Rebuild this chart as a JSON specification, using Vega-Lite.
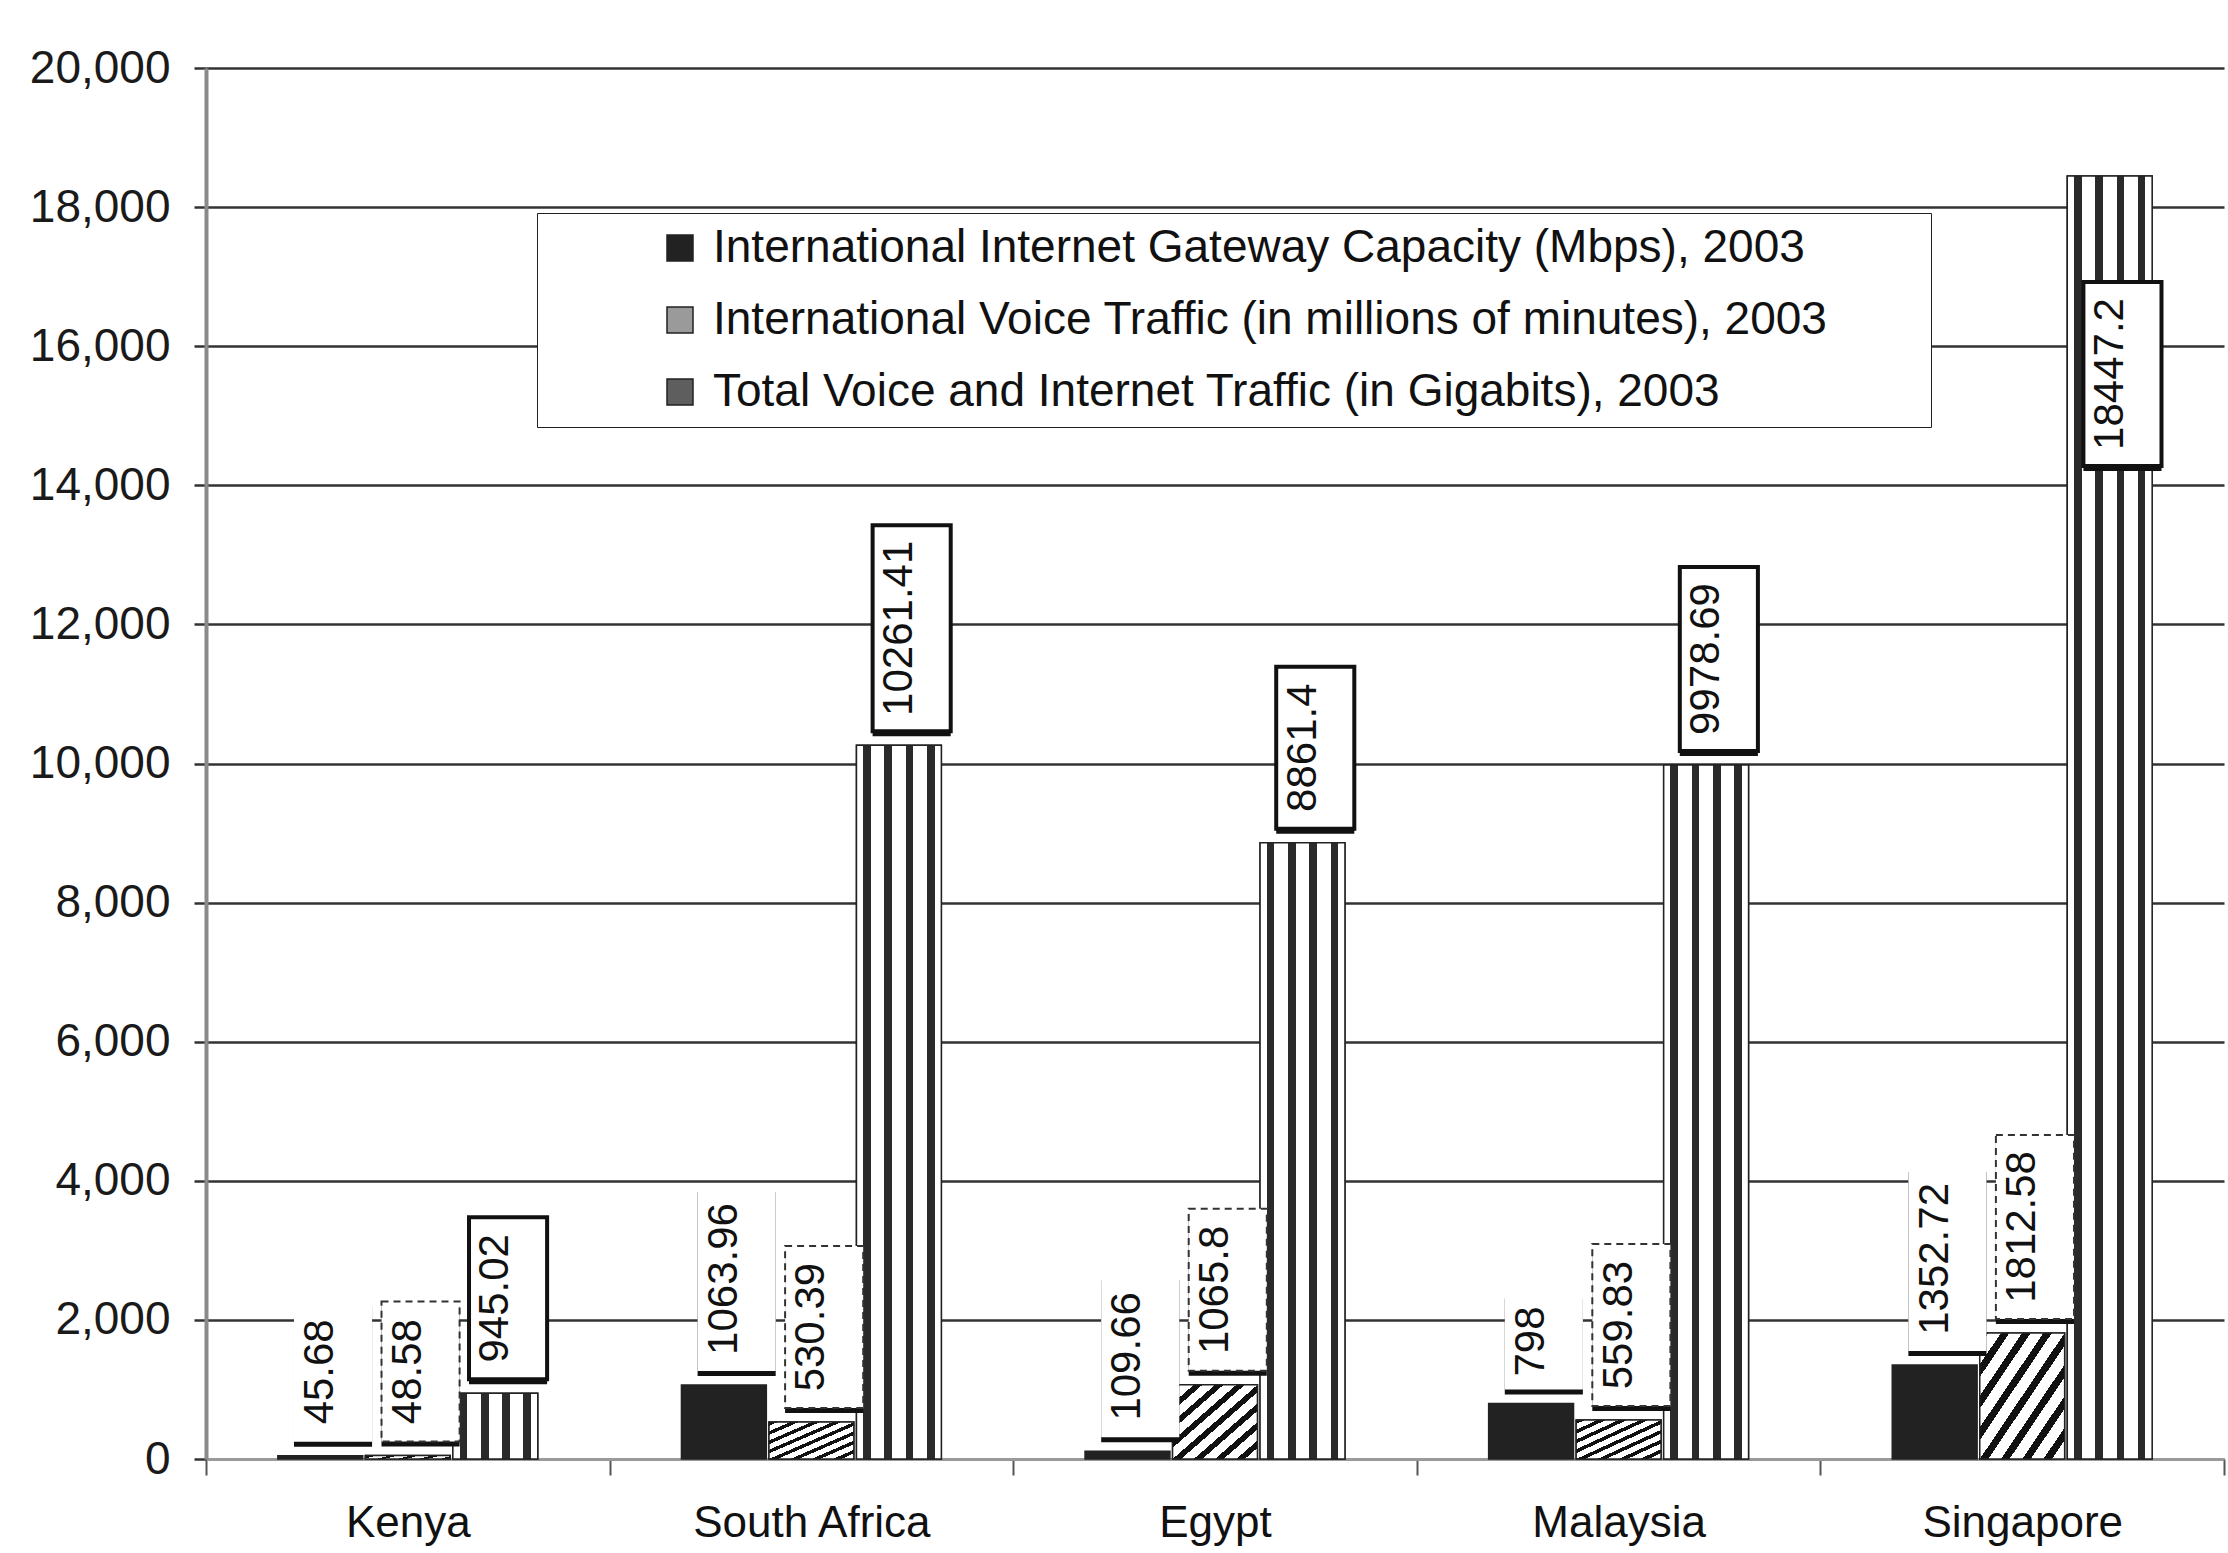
{
  "$schema": "https://vega.github.io/schema/vega-lite/v6.json",
  "width": 2018,
  "height": 1391,
  "autosize": {"type": "none"},
  "padding": {"left": 206, "top": 68, "right": 4, "bottom": 94},
  "background": "white",
  "config": {
    "view": {"stroke": null},
    "font": "Liberation Sans",
    "axis": {"labelFont": "Liberation Sans", "titleFont": "Liberation Sans"},
    "legend": {"labelFont": "Liberation Sans", "titleFont": "Liberation Sans"}
  },
  "data": {
    "values": [
      {"country": "Kenya", "series": "International Internet Gateway Capacity (Mbps), 2003", "value": 45.68},
      {"country": "Kenya", "series": "International Voice Traffic (in millions of minutes), 2003", "value": 48.58},
      {"country": "Kenya", "series": "Total Voice and Internet Traffic (in Gigabits), 2003", "value": 945.02},
      {"country": "South Africa", "series": "International Internet Gateway Capacity (Mbps), 2003", "value": 1063.96},
      {"country": "South Africa", "series": "International Voice Traffic (in millions of minutes), 2003", "value": 530.39},
      {"country": "South Africa", "series": "Total Voice and Internet Traffic (in Gigabits), 2003", "value": 10261.41},
      {"country": "Egypt", "series": "International Internet Gateway Capacity (Mbps), 2003", "value": 109.66},
      {"country": "Egypt", "series": "International Voice Traffic (in millions of minutes), 2003", "value": 1065.8},
      {"country": "Egypt", "series": "Total Voice and Internet Traffic (in Gigabits), 2003", "value": 8861.4},
      {"country": "Malaysia", "series": "International Internet Gateway Capacity (Mbps), 2003", "value": 798},
      {"country": "Malaysia", "series": "International Voice Traffic (in millions of minutes), 2003", "value": 559.83},
      {"country": "Malaysia", "series": "Total Voice and Internet Traffic (in Gigabits), 2003", "value": 9978.69},
      {"country": "Singapore", "series": "International Internet Gateway Capacity (Mbps), 2003", "value": 1352.72},
      {"country": "Singapore", "series": "International Voice Traffic (in millions of minutes), 2003", "value": 1812.58},
      {"country": "Singapore", "series": "Total Voice and Internet Traffic (in Gigabits), 2003", "value": 18447.2}
    ]
  },
  "encoding": {
    "x": {
      "field": "country", "type": "nominal",
      "sort": ["Kenya", "South Africa", "Egypt", "Malaysia", "Singapore"],
      "scale": {"paddingInner": 0, "paddingOuter": 0},
      "axis": {
        "title": null, "labelAngle": 0, "labelFontSize": 44, "labelColor": "#111", "labelLimit": 0,
        "domainColor": "#9a9a9a", "domainWidth": 3,
        "tickBand": "extent", "tickColor": "#555", "tickWidth": 2, "tickSize": 16,
        "labelPadding": 26, "grid": false
      }
    },
    "xOffset": {
      "field": "series", "type": "nominal",
      "scale": {
        "domain": [
          "International Internet Gateway Capacity (Mbps), 2003",
          "International Voice Traffic (in millions of minutes), 2003",
          "Total Voice and Internet Traffic (in Gigabits), 2003"
        ],
        "paddingInner": 0.03, "paddingOuter": 0.821
      }
    },
    "y": {
      "field": "value", "type": "quantitative", "stack": null,
      "scale": {"domain": [0, 20000], "nice": false},
      "axis": {
        "title": null, "values": [0, 2000, 4000, 6000, 8000, 10000, 12000, 14000, 16000, 18000, 20000],
        "labelExpr": "format(datum.value, ',')", "labelFontSize": 46, "labelColor": "#1a1a1a",
        "grid": true, "gridColor": "#333", "gridWidth": 2.5,
        "domainColor": "#8a8a8a", "domainWidth": 4,
        "tickColor": "#333", "tickWidth": 2.5, "tickSize": 12, "labelPadding": 24
      }
    }
  },
  "layer": [
    {
      "mark": {"type": "bar", "stroke": "#222", "strokeWidth": 1.5},
      "encoding": {
        "color": {
          "field": "series", "type": "nominal",
          "scale": {
            "domain": [
              "International Internet Gateway Capacity (Mbps), 2003",
              "International Voice Traffic (in millions of minutes), 2003",
              "Total Voice and Internet Traffic (in Gigabits), 2003"
            ],
            "range": ["#222222", "#9a9a9a", "#5e5e5e"]
          },
          "legend": {
            "title": "MM", "titleOrient": "right", "titleColor": "white", "titleFontSize": 46, "titlePadding": 14,
            "orient": "none", "legendX": 331, "legendY": 145,
            "fillColor": "white", "strokeColor": "#222", "padding": 12,
            "symbolType": "square", "symbolSize": 676, "symbolStrokeColor": "#222", "symbolStrokeWidth": 1.5,
            "symbolOffset": 108, "labelOffset": 10,
            "labelFontSize": 46, "labelColor": "#111", "labelLimit": 0, "rowPadding": 26
          }
        }
      }
    },
    {
      "transform": [{"filter": {"field": "series", "equal": "International Voice Traffic (in millions of minutes), 2003"}}],
      "mark": {
        "type": "bar", "stroke": "#222", "strokeWidth": 1.5,
        "fill": {"gradient": "linear", "x1": 0, "y1": 0, "x2": 1, "y2": 1, "stops": [
          {"offset": 0, "color": "#111"}, {"offset": 0.05, "color": "#111"}, {"offset": 0.05, "color": "#fff"}, {"offset": 0.125, "color": "#fff"},
          {"offset": 0.125, "color": "#111"}, {"offset": 0.175, "color": "#111"}, {"offset": 0.175, "color": "#fff"}, {"offset": 0.25, "color": "#fff"},
          {"offset": 0.25, "color": "#111"}, {"offset": 0.3, "color": "#111"}, {"offset": 0.3, "color": "#fff"}, {"offset": 0.375, "color": "#fff"},
          {"offset": 0.375, "color": "#111"}, {"offset": 0.425, "color": "#111"}, {"offset": 0.425, "color": "#fff"}, {"offset": 0.5, "color": "#fff"},
          {"offset": 0.5, "color": "#111"}, {"offset": 0.55, "color": "#111"}, {"offset": 0.55, "color": "#fff"}, {"offset": 0.625, "color": "#fff"},
          {"offset": 0.625, "color": "#111"}, {"offset": 0.675, "color": "#111"}, {"offset": 0.675, "color": "#fff"}, {"offset": 0.75, "color": "#fff"},
          {"offset": 0.75, "color": "#111"}, {"offset": 0.8, "color": "#111"}, {"offset": 0.8, "color": "#fff"}, {"offset": 0.875, "color": "#fff"},
          {"offset": 0.875, "color": "#111"}, {"offset": 0.925, "color": "#111"}, {"offset": 0.925, "color": "#fff"}, {"offset": 1, "color": "#fff"}
        ]}
      },
      "encoding": {}
    },
    {
      "transform": [{"filter": {"field": "series", "equal": "Total Voice and Internet Traffic (in Gigabits), 2003"}}],
      "mark": {
        "type": "bar", "stroke": "#222", "strokeWidth": 1.5,
        "fill": {"gradient": "linear", "x1": 0, "y1": 0, "x2": 1, "y2": 0, "stops": [
          {"offset": 0, "color": "#fff"}, {"offset": 0.08, "color": "#fff"}, {"offset": 0.08, "color": "#2a2a2a"}, {"offset": 0.17, "color": "#2a2a2a"}, {"offset": 0.17, "color": "#fff"},
          {"offset": 0.33, "color": "#fff"}, {"offset": 0.33, "color": "#2a2a2a"}, {"offset": 0.42, "color": "#2a2a2a"}, {"offset": 0.42, "color": "#fff"},
          {"offset": 0.58, "color": "#fff"}, {"offset": 0.58, "color": "#2a2a2a"}, {"offset": 0.67, "color": "#2a2a2a"}, {"offset": 0.67, "color": "#fff"},
          {"offset": 0.83, "color": "#fff"}, {"offset": 0.83, "color": "#2a2a2a"}, {"offset": 0.92, "color": "#2a2a2a"}, {"offset": 0.92, "color": "#fff"}, {"offset": 1, "color": "#fff"}
        ]}
      },
      "encoding": {}
    },
    {
      "mark": {
        "type": "bar", "fill": "#111", "xOffset": 5,
        "width": {"band": 0.92},
        "yOffset": {"expr": "(datum.value > 16000 ? 290 : -14) + 5"},
        "y2Offset": {"expr": "(datum.value > 16000 ? 290 : -14) - (22*length(toString(datum.value))+30) + 5"}
      },
      "encoding": {"y2": {"field": "value"}}
    },
    {
      "transform": [{"filter": {"field": "series", "equal": "International Internet Gateway Capacity (Mbps), 2003"}}],
      "mark": {
        "type": "bar", "fill": "white",
        "width": {"band": 0.92},
        "yOffset": {"expr": "(datum.value > 16000 ? 290 : -14)"},
        "y2Offset": {"expr": "(datum.value > 16000 ? 290 : -14) - (22*length(toString(datum.value))+30)"}
      },
      "encoding": {"y2": {"field": "value"}}
    },
    {
      "transform": [{"filter": {"field": "series", "equal": "International Voice Traffic (in millions of minutes), 2003"}}],
      "mark": {
        "type": "bar", "fill": "white", "stroke": "#333", "strokeWidth": 2, "strokeDash": [7, 5],
        "width": {"band": 0.92},
        "yOffset": {"expr": "(datum.value > 16000 ? 290 : -14)"},
        "y2Offset": {"expr": "(datum.value > 16000 ? 290 : -14) - (22*length(toString(datum.value))+30)"}
      },
      "encoding": {"y2": {"field": "value"}}
    },
    {
      "transform": [{"filter": {"field": "series", "equal": "Total Voice and Internet Traffic (in Gigabits), 2003"}}],
      "mark": {
        "type": "bar", "fill": "white", "stroke": "#111", "strokeWidth": 4,
        "width": {"band": 0.92},
        "yOffset": {"expr": "(datum.value > 16000 ? 290 : -14)"},
        "y2Offset": {"expr": "(datum.value > 16000 ? 290 : -14) - (22*length(toString(datum.value))+30)"}
      },
      "encoding": {"y2": {"field": "value"}}
    },
    {
      "mark": {
        "type": "text", "angle": 270, "align": "center", "baseline": "middle",
        "fontSize": 42, "font": "Liberation Sans", "color": "#111",
        "yOffset": {"expr": "(datum.value > 16000 ? 290 : -14) - (22*length(toString(datum.value))+30)/2"}
      },
      "encoding": {
        "text": {"field": "value", "type": "nominal"}
      }
    }
  ]
}
